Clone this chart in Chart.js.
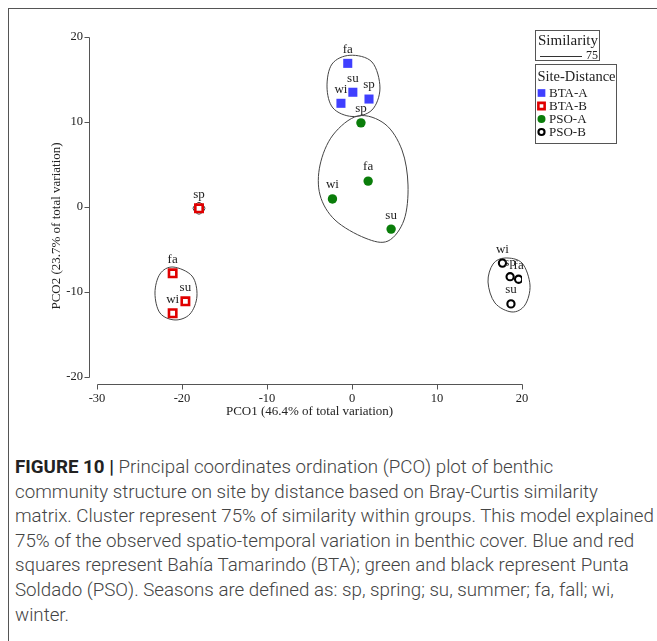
<!DOCTYPE html>
<html><head><meta charset="utf-8">
<script src="https://cdn.jsdelivr.net/npm/chart.js@4"></script>
<style>
html,body{margin:0;padding:0;background:#fff;width:657px;height:641px;overflow:hidden;}
#frame{position:absolute;left:8px;top:8px;width:700px;height:700px;border-left:1px solid #555;border-top:1px solid #555;}
#wrap{position:absolute;left:0;top:0;width:657px;height:430px;}
#cap{position:absolute;left:15px;top:455px;font-family:Roboto,"Liberation Sans",sans-serif;font-weight:300;color:#444;font-size:17.5px;line-height:24.6px;white-space:nowrap;}
#cap b{font-weight:700;color:#222;}
</style></head>
<body>
<div id="frame"></div>
<div id="wrap"><canvas id="c"></canvas></div>
<div id="cap">
<div class="ln"><b>FIGURE 10 |</b> Principal coordinates ordination (PCO) plot of benthic</div>
<div class="ln">community structure on site by distance based on Bray-Curtis similarity</div>
<div class="ln" id="l3">matrix. Cluster represent 75% of similarity within groups. This model explained</div>
<div class="ln">75% of the observed spatio-temporal variation in benthic cover. Blue and red</div>
<div class="ln">squares represent Bahía Tamarindo (BTA); green and black represent Punta</div>
<div class="ln">Soldado (PSO). Seasons are defined as: sp, spring; su, summer; fa, fall; wi,</div>
<div class="ln">winter.</div>
</div>
<script>
// ---- data ----
const seriesNames = ['BTA-A','BTA-B','PSO-A','PSO-B'];
const xTicks = [-30,-20,-10,0,10,20];
const yTicks = [-20,-10,0,10,20];
const xTitle = 'PCO1 (46.4% of total variation)';
const yTitle = 'PCO2 (23.7% of total variation)';
const similarityValue = '75';

const btaA_season = ['fa','su','wi','sp'];
const btaA_x = [-0.5, 0.1, -1.3, 2.0];
const btaA_y = [16.9, 13.5, 12.2, 12.7];

const btaB_season = ['sp','fa','su','wi'];
const btaB_x = [-18.0, -21.1, -19.6, -21.1];
const btaB_y = [-0.15, -7.8, -11.1, -12.5];

const psoA_season = ['sp','fa','wi','su'];
const psoA_x = [1.05, 1.9, -2.3, 4.6];
const psoA_y = [9.9, 3.05, 0.95, -2.6];

const psoB_season = ['wi','sp','fa','su'];
const psoB_x = [17.7, 18.6, 19.6, 18.7];
const psoB_y = [-6.6, -8.2, -8.5, -11.4];

// cluster outlines (75% similarity), in data units
const hullBtaA_x = [-0.24, 2.35, 3.29, 2.35, 0.0, -2.24, -2.94, -2.35];
const hullBtaA_y = [17.85, 17.06, 14.0, 11.41, 10.65, 11.65, 14.12, 16.82];
const hullPsoA_x = [0.71, 3.88, 5.88, 6.59, 6.12, 4.24, 1.53, -2.0, -3.76, -3.76, -2.24];
const hullPsoA_y = [10.71, 9.76, 6.71, 2.59, -1.53, -4.0, -3.65, -1.53, 1.41, 4.94, 8.47];
const hullBtaBsp_x = [-18.0, -17.3, -18.0, -18.7];
const hullBtaBsp_y = [0.55, -0.15, -0.85, -0.15];
const hullBtaB_x = [-21.06, -18.82, -18.24, -19.06, -20.82, -22.59, -23.18, -22.59];
const hullBtaB_y = [-7.06, -8.12, -10.47, -12.59, -13.29, -12.47, -10.12, -7.88];
const hullPsoB_x = [18.0, 20.0, 20.94, 20.35, 18.82, 16.82, 16.0, 16.59];
const hullPsoB_y = [-6.0, -6.59, -9.18, -11.53, -12.35, -11.29, -8.82, -6.71];

// ---- build ----
const pts = (xs, ys) => xs.map((x, i) => ({x, y: ys[i]}));
const hulls = [
  [hullBtaA_x, hullBtaA_y], [hullPsoA_x, hullPsoA_y], [hullBtaBsp_x, hullBtaBsp_y],
  [hullBtaB_x, hullBtaB_y], [hullPsoB_x, hullPsoB_y]
];
const seasonLabels = [btaA_season, btaB_season, psoA_season, psoB_season];

const SERIF = '"Liberation Serif","Times New Roman",serif';
const INK = '#222';
const AX = '#555';

const styles = [
  {pointStyle:'rect', radius:6.4, backgroundColor:'#3f3fff', borderColor:'#3f3fff', borderWidth:0},
  {pointStyle:'rect', radius:5.2, backgroundColor:'#ffffff', borderColor:'#e00000', borderWidth:2.6},
  {pointStyle:'circle', radius:4.7, backgroundColor:'#0a7d0a', borderColor:'#0a7d0a', borderWidth:0},
  {pointStyle:'circle', radius:3.6, backgroundColor:'#ffffff', borderColor:'#000000', borderWidth:2.1}
];
const allData = [pts(btaA_x,btaA_y), pts(btaB_x,btaB_y), pts(psoA_x,psoA_y), pts(psoB_x,psoB_y)];

const datasets = seriesNames.map((n, i) => ({
  label: n, data: allData[i], pointHoverRadius: styles[i].radius,
  pointStyle: styles[i].pointStyle, pointRadius: styles[i].radius,
  backgroundColor: styles[i].backgroundColor, borderColor: styles[i].borderColor,
  borderWidth: styles[i].borderWidth
}));

function closedSpline(ctx, p) {
  const n = p.length;
  ctx.beginPath();
  ctx.moveTo(p[0].x, p[0].y);
  for (let i = 0; i < n; i++) {
    const p0 = p[(i - 1 + n) % n], p1 = p[i], p2 = p[(i + 1) % n], p3 = p[(i + 2) % n];
    const c1x = p1.x + (p2.x - p0.x) / 6, c1y = p1.y + (p2.y - p0.y) / 6;
    const c2x = p2.x - (p3.x - p1.x) / 6, c2y = p2.y - (p3.y - p1.y) / 6;
    ctx.bezierCurveTo(c1x, c1y, c2x, c2y, p2.x, p2.y);
  }
  ctx.closePath();
}

const deco = {
  id: 'deco',
  beforeDatasetsDraw(chart) {
    const {ctx, scales: {x, y}} = chart;
    ctx.save();
    ctx.strokeStyle = '#444'; ctx.lineWidth = 1;
    hulls.forEach(([hx, hy]) => {
      const p = hx.map((v, i) => ({x: x.getPixelForValue(v), y: y.getPixelForValue(hy[i])}));
      closedSpline(ctx, p); ctx.stroke();
    });
    // axes (offset range frame)
    ctx.strokeStyle = AX; ctx.lineWidth = 1;
    const ca = chart.chartArea;
    const ax = Math.round(ca.left - 8) + 0.5;
    const ay = Math.round(ca.bottom + 7) + 0.5;
    ctx.beginPath();
    ctx.moveTo(ax, Math.round(y.getPixelForValue(yTicks[yTicks.length-1])) + 0.5);
    ctx.lineTo(ax, Math.round(y.getPixelForValue(yTicks[0])) + 0.5);
    yTicks.forEach(v => { const py = Math.round(y.getPixelForValue(v)) + 0.5; ctx.moveTo(ax, py); ctx.lineTo(ax - 5, py); });
    ctx.moveTo(Math.round(x.getPixelForValue(xTicks[0])) + 0.5, ay);
    ctx.lineTo(Math.round(x.getPixelForValue(xTicks[xTicks.length-1])) + 0.5, ay);
    xTicks.forEach(v => { const px = Math.round(x.getPixelForValue(v)) + 0.5; ctx.moveTo(px, ay); ctx.lineTo(px, ay + 5); });
    ctx.stroke();
    // axis titles
    ctx.fillStyle = INK;
    ctx.font = '13px ' + SERIF;
    ctx.textAlign = 'center'; ctx.textBaseline = 'middle';
    ctx.fillText(xTitle, (ca.left + ca.right) / 2, ca.bottom + 35);
    ctx.save();
    ctx.translate(ca.left - 40, (ca.top + ca.bottom) / 2 + 19);
    ctx.rotate(-Math.PI / 2);
    ctx.fillText(yTitle, 0, 0);
    ctx.restore();
    ctx.restore();
  },
  afterDatasetsDraw(chart) {
    const {ctx} = chart;
    ctx.save();
    ctx.fillStyle = INK;
    ctx.font = '13px ' + SERIF;
    ctx.textAlign = 'center'; ctx.textBaseline = 'middle';
    chart.data.datasets.forEach((ds, di) => {
      chart.getDatasetMeta(di).data.forEach((el, i) => {
        ctx.fillText(seasonLabels[di][i], el.x, el.y - 14);
      });
    });
    // legends
    ctx.strokeStyle = '#555'; ctx.lineWidth = 1;
    ctx.strokeRect(535.5, 30.5, 64, 30);
    ctx.font = '15px ' + SERIF;
    ctx.fillText('Similarity', 568, 41);
    ctx.beginPath(); ctx.moveTo(540, 56.5); ctx.lineTo(582, 56.5); ctx.strokeStyle = '#333'; ctx.stroke();
    ctx.font = '12px ' + SERIF; ctx.textAlign = 'left';
    ctx.fillText(similarityValue, 586, 56);
    ctx.strokeStyle = '#555';
    ctx.strokeRect(535.5, 64.5, 81, 79);
    ctx.font = '14.5px ' + SERIF; ctx.textAlign = 'center';
    ctx.fillText('Site-Distance', 576.5, 77);
    ctx.font = '13px ' + SERIF; ctx.textAlign = 'left';
    seriesNames.forEach((n, i) => {
      const yy = 93 + i * 13;
      const s = styles[i];
      ctx.save();
      ctx.fillStyle = s.backgroundColor; ctx.strokeStyle = s.borderColor; ctx.lineWidth = s.borderWidth;
      ctx.beginPath();
      if (s.pointStyle === 'rect') {
        const h = s.radius * 0.85 * Math.SQRT1_2;
        ctx.rect(541.5 - h, yy - h, 2*h, 2*h);
      } else {
        ctx.arc(541.5, yy, s.radius * 0.85, 0, Math.PI*2);
      }
      ctx.fill(); if (s.borderWidth) ctx.stroke();
      ctx.restore();
      ctx.fillStyle = INK;
      ctx.fillText(n, 549, yy + 0.5);
    });
    ctx.restore();
  }
};

new Chart(document.getElementById('c'), {
  type: 'scatter',
  data: {datasets},
  plugins: [deco],
  options: {
    responsive: true, maintainAspectRatio: false, animation: false,
    layout: {padding: {left: 0, top: 37, right: 135, bottom: 0}},
    plugins: {legend: {display: false}, tooltip: {enabled: false}},
    scales: {
      x: {
        type: 'linear', min: -30, max: 20,
        afterFit(s) { s.height = 53; },
        afterBuildTicks(s) { s.ticks = xTicks.map(v => ({value: v})); },
        grid: {display: false, drawTicks: false}, border: {display: false},
        ticks: {padding: 14, color: INK, font: {family: SERIF, size: 12.5}}
      },
      y: {
        type: 'linear', min: -20, max: 20,
        afterFit(s) { s.width = 97; },
        afterBuildTicks(s) { s.ticks = yTicks.map(v => ({value: v})); },
        grid: {display: false, drawTicks: false}, border: {display: false},
        ticks: {padding: 14, color: INK, font: {family: SERIF, size: 12.5}}
      }
    }
  }
});

(function fit(){
  const l3 = document.getElementById('l3');
  const w = l3.getBoundingClientRect().width;
  const cap = document.getElementById('cap');
  const fs = parseFloat(getComputedStyle(cap).fontSize);
  cap.style.fontSize = (fs * 639 / w).toFixed(2) + 'px';
})();
</script>
</body></html>
